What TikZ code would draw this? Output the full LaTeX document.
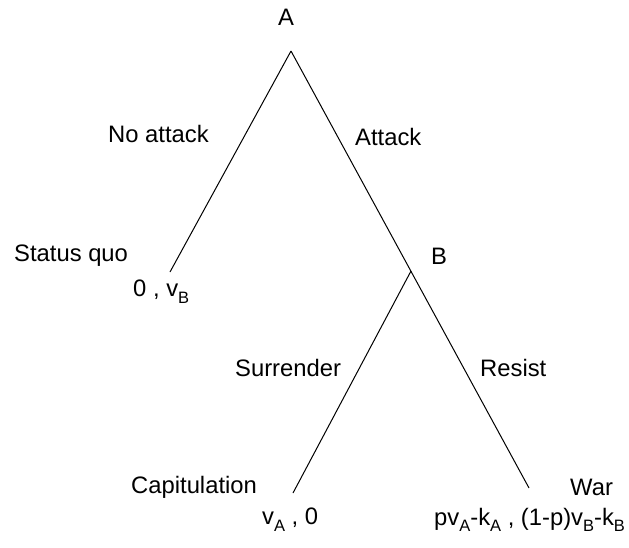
\documentclass[tikz,border=0pt]{standalone}
\usepackage{fontspec}
\setmainfont{Liberation Sans}
\newcommand{\lsub}[1]{\raisebox{-0.28em}{\fontsize{16.5}{16.5}\selectfont #1}}
\begin{document}
\begin{tikzpicture}[x=1pt,y=-1pt,
  lbl/.style={inner sep=0pt,anchor=west,font=\fontsize{23.8}{28}\selectfont},
  edge/.style={line width=1pt}]
\useasboundingbox (0,0) rectangle (629,547);
\coordinate (a) at (291,51);
\coordinate (b) at (411,271);
\coordinate (sq) at (170,272);
\coordinate (cap) at (293,493);
\coordinate (war) at (529,488);
\draw[edge] (a) -- (war);
\draw[edge] (a) -- (sq);
\draw[edge] (b) -- (cap);
\node[lbl] (la) at (278,17) {A};
\node[lbl] (lna) at (108,134) {No attack};
\node[lbl] (lat) at (355,137) {Attack};
\node[lbl] (lsq) at (14,256) {Status quo};
\node[lbl] (psq) at (133,292) {0 , v\lsub{B}};
\node[lbl] (lb) at (431,256) {B};
\node[lbl] (lsu) at (235,368) {Surrender};
\node[lbl] (lre) at (480,368) {Resist};
\node[lbl] (lca) at (131,487) {Capitulation};
\node[lbl] (lwa) at (570,487) {War};
\node[lbl] (pca) at (262,520) {v\lsub{A} , 0};
\node[lbl] (pwa) at (434,520) {pv\lsub{A}-k\lsub{A} , (1-p)v\lsub{B}-k\lsub{B}};
\end{tikzpicture}
\end{document}
